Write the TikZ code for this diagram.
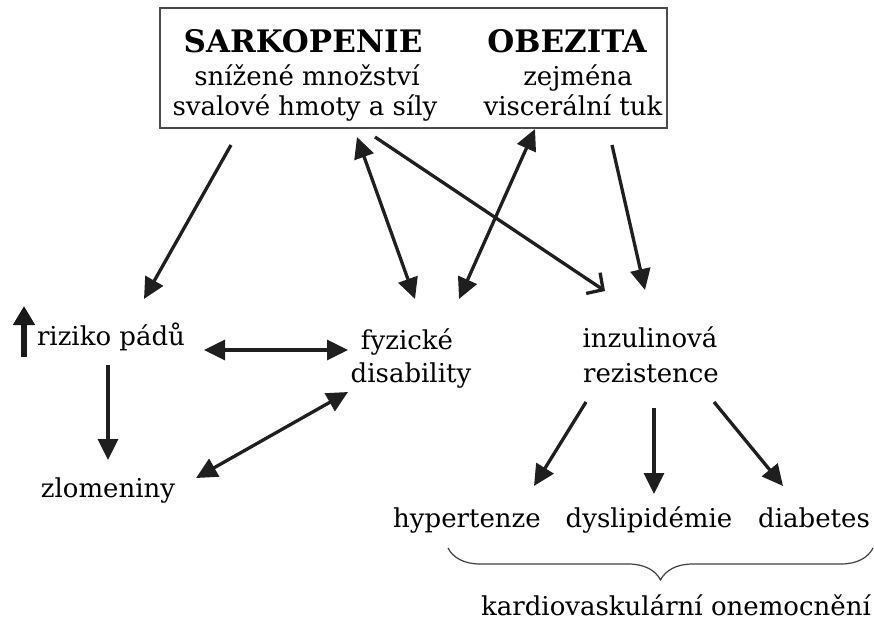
\documentclass[tikz,border=0pt]{standalone}
\usepackage{fontspec}
\setmainfont{DejaVu Serif}
\usetikzlibrary{arrows.meta,decorations.pathreplacing}
\begin{document}
\begin{tikzpicture}[x=1pt,y=-1pt,
 txt/.style={font=\fontsize{26}{30}\selectfont, inner sep=0pt, anchor=base},
 hd/.style={font=\fontsize{31}{35}\selectfont\bfseries, inner sep=0pt, anchor=base},
 arr/.style={line width=3.3pt, draw=black!88, -{Triangle[length=21pt,width=20pt]}},
 darr/.style={line width=3.3pt, draw=black!88, {Triangle[length=21pt,width=20pt]}-{Triangle[length=21pt,width=20pt]}},
 oarr/.style={line width=3.3pt, draw=black!88, -{Straight Barb[length=12pt,width=25pt,line width=3.3pt]}}]
\useasboundingbox (0,0) rectangle (874,623);
% top box
\node (box) [draw=black!70, line width=1.8pt, minimum width=507pt, minimum height=120pt, inner sep=0pt] at (413.5,68) {};
\node[hd] (sark) at (303,53) {SARKOPENIE};
\node[hd] (obez) at (567,53) {OBEZITA};
\node[txt] (s1) at (307,85) {snížené množství};
\node[txt] (s2) at (305,115) {svalové hmoty a síly};
\node[txt] (o1) at (578,85) {zejména};
\node[txt] (o2) at (573,115) {viscerální tuk};
% middle
\node[txt] (riz) at (111,345) {riziko pádů};
\node[txt] (fyz1) at (407,349) {fyzické};
\node[txt] (fyz2) at (411,382) {disability};
\node[txt] (inz1) at (650,347) {inzulinová};
\node[txt] (inz2) at (651,382) {rezistence};
\node[txt] (zlom) at (108,497) {zlomeniny};
% bottom
\node[txt] (hyp) at (467,527) {hypertenze};
\node[txt] (dys) at (649,527) {dyslipidémie};
\node[txt] (dia) at (814,527) {diabetes};
\node[txt] (kard) at (676,615) {kardiovaskulární onemocnění};
% connector ends
\coordinate (b1) at (231,145); \coordinate (r1) at (144,299);
\coordinate (b2) at (357,137); \coordinate (f2) at (415,299);
\coordinate (b3) at (375,137); \coordinate (i3) at (605,291);
\coordinate (b4) at (535,129); \coordinate (f4) at (459,299);
\coordinate (b5) at (612,145); \coordinate (i5) at (645,290);
\coordinate (r6) at (204,350); \coordinate (f6) at (348,350);
\coordinate (r7) at (108,365); \coordinate (z7) at (108,460);
\coordinate (z8) at (196,478); \coordinate (f8) at (348,392);
\coordinate (i9) at (586,402); \coordinate (h9) at (534,486);
\coordinate (i10) at (654,408); \coordinate (d10) at (654,494);
\coordinate (i11) at (714,402); \coordinate (d11) at (783,486);
\coordinate (u1) at (24,357); \coordinate (u2) at (24,306);
\draw[arr] (b1) -- (r1);
\draw[darr] (b2) -- (f2);
\draw[oarr] (b3) -- (i3);
\draw[darr] (b4) -- (f4);
\draw[arr] (b5) -- (i5);
\draw[darr] (r6) -- (f6);
\draw[arr] (r7) -- (z7);
\draw[darr] (z8) -- (f8);
\draw[arr] (i9) -- (h9);
\draw[arr] (i10) -- (d10);
\draw[arr] (i11) -- (d11);
\draw[line width=6.5pt, draw=black!90, -{Triangle[length=19pt,width=21pt]}] (u1) -- (u2);
\draw[line width=1.2pt, draw=black!75, decorate, decoration={brace, amplitude=32pt}] (873,548) -- (448,548);
\end{tikzpicture}
\end{document}
